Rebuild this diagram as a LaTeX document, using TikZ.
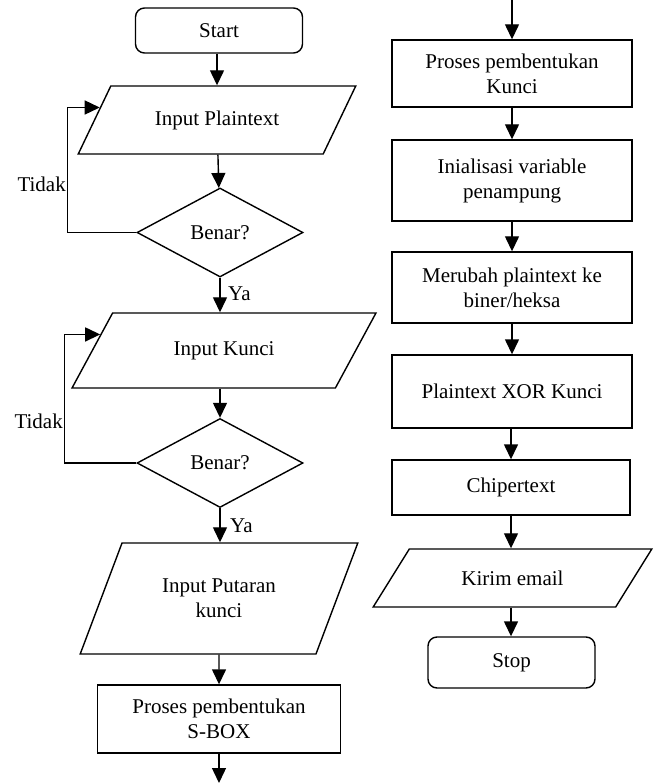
\documentclass[tikz,border=0pt]{standalone}
\usepackage{fontspec}
\setmainfont{Liberation Serif}
\usetikzlibrary{shapes.geometric,arrows.meta,calc}
\tikzset{
    every node/.style={font=\fontsize{21}{25}\selectfont, align=center,
    	inner sep=0pt}
}
\tikzset{
    every edge/.append style={line width=1.4pt, -{Triangle[length=15pt,width=14pt]}}
}
\tikzset{
	term/.style={draw, line width=1.4pt, rectangle, rounded corners=9pt,
		minimum width=167pt, minimum height=#1},
	box/.style={draw, line width=1.4pt, rectangle, minimum width=240pt,
		minimum height=#1},
	io/.style={draw, line width=1.4pt, trapezium, trapezium stretches=true,
		trapezium left angle=#1, trapezium right angle=180-#1},
	dec/.style={draw, line width=1.4pt, diamond, minimum width=166pt,
		minimum height=89pt},
	loopline/.style={line width=1.4pt, -{Triangle[length=15pt,width=14pt]}}
}

\begin{document}
\begin{tikzpicture}[x=1pt,y=-1pt]
  \useasboundingbox (0,0) rectangle (656,783);
  % kolom kiri
  \node (0) [term=45pt] at (219,30.5) {Start};
  \node (1) [io=45, minimum width=278pt, minimum height=68pt] at (217,120) {Input Plaintext};
  \node (2) [dec] at (220,232.5) {Benar?};
  \node (3) [io=45, minimum width=304pt, minimum height=75pt] at (224,350.5) {Input Kunci};
  \node (4) [dec] at (220,463) {Benar?};
  \node (5) [io=57.8, minimum width=278pt, minimum height=111pt] at (219,598.5) {Input Putaran\\kunci};
  \node (6) [box=68pt, minimum width=243pt] at (219,719) {Proses pembentukan\\S-BOX};
  % kolom kanan
  \node (7) [box=67pt] at (512,73.5) {Proses pembentukan\\Kunci};
  \node (8) [box=81pt] at (512,180.5) {Inialisasi variable\\penampung};
  \node (9) [box=71pt] at (512,287.5) {Merubah plaintext ke\\biner/heksa};
  \node (10) [box=73pt] at (512,391.5) {Plaintext XOR Kunci};
  \node (11) [box=55pt, minimum width=238pt] at (511,487.5) {Chipertext};
  \node (12) [io=39.6, minimum width=279pt, minimum height=58pt] at (512.5,578) {Kirim email};
  \node (13) [term=51pt] at (511.5,662.5) {Stop};
  % label
  \node (t1) [anchor=base east] at (66,192) {Tidak};
  \node (t2) [anchor=base east] at (63,428) {Tidak};
  \node (y1) [anchor=base west] at (228,300) {Ya};
  \node (y2) [anchor=base west] at (230,532) {Ya};

  \coordinate (a) at ($(1.top left corner)!0.32!(1.bottom left corner)$);
  \coordinate (b) at ($(3.top left corner)!0.29!(3.bottom left corner)$);
  \coordinate (c) at (219,783);
  \coordinate (d) at (512,0);

  \draw (0.south -| 1.north) edge (1.north); \draw (1) edge (2);
  \draw (2.south) edge (2.south |- 3.north); \draw (3.south -| 4.north) edge (4.north);
  \draw (4.south) edge (4.south |- 5.north); \draw (5) edge (6);
  \draw (6) edge (c);
  \draw (d) edge (7); \draw (7) edge (8); \draw (8) edge (9);
  \draw (9) edge (10); \draw (10.south -| 11.north) edge (11.north);
  \draw (11) edge (12.north -| 11.south); \draw (12.south -| 11.south) edge (13.north -| 11.south);

  \draw[loopline] (2.west) -- ++(-69,0) |- (a);
  \draw[loopline] (4.west) -- ++(-72,0) |- (b);
\end{tikzpicture}
\end{document}
